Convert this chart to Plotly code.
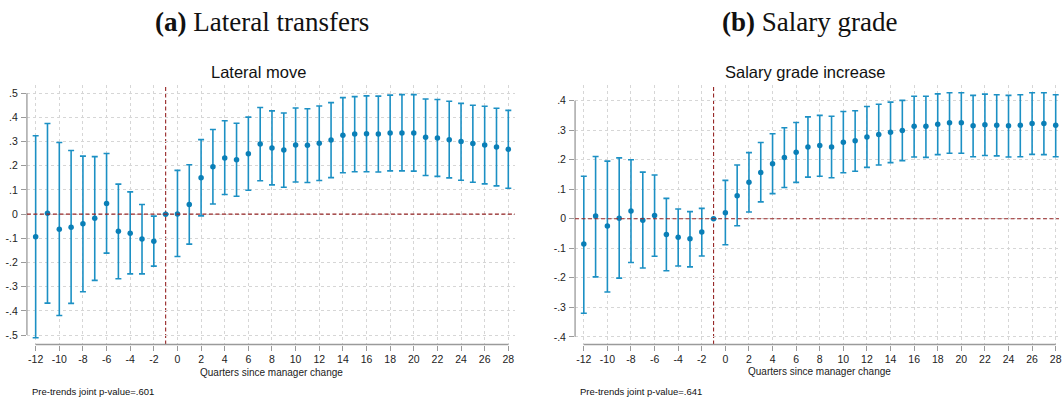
import plotly.graph_objects as go

# Event-study estimates by quarter relative to the manager change
quarters = list(range(-12, 29))

lat_coef = [-0.093, 0.004, -0.062, -0.054, -0.040, -0.017, 0.044, -0.071, -0.079, -0.103, -0.112, 0.0,
            0.001, 0.040, 0.151, 0.196, 0.232, 0.225, 0.250, 0.290, 0.274, 0.265, 0.286, 0.285, 0.293,
            0.307, 0.326, 0.331, 0.332, 0.331, 0.336, 0.336, 0.336, 0.318, 0.315, 0.308, 0.300, 0.292,
            0.286, 0.278, 0.268]
lat_hi = [0.324, 0.375, 0.296, 0.263, 0.240, 0.238, 0.251, 0.124, 0.092, 0.040, -0.008, None,
          0.181, 0.204, 0.308, 0.350, 0.386, 0.376, 0.401, 0.441, 0.427, 0.418, 0.439, 0.436, 0.447,
          0.461, 0.482, 0.486, 0.489, 0.488, 0.492, 0.494, 0.494, 0.476, 0.474, 0.467, 0.458, 0.450,
          0.446, 0.438, 0.429]
lat_lo = [-0.511, -0.368, -0.419, -0.369, -0.321, -0.274, -0.161, -0.267, -0.247, -0.247, -0.215, None,
          -0.175, -0.124, -0.007, 0.042, 0.081, 0.074, 0.099, 0.138, 0.121, 0.111, 0.133, 0.131, 0.139,
          0.151, 0.171, 0.175, 0.175, 0.174, 0.179, 0.179, 0.178, 0.160, 0.156, 0.150, 0.140, 0.132,
          0.125, 0.117, 0.107]

sal_coef = [-0.086, 0.009, -0.025, 0.002, 0.026, -0.005, 0.011, -0.053, -0.063, -0.068, -0.045, 0.0,
            0.020, 0.078, 0.124, 0.157, 0.186, 0.207, 0.225, 0.243, 0.248, 0.243, 0.259, 0.264, 0.277,
            0.285, 0.293, 0.299, 0.313, 0.313, 0.320, 0.325, 0.325, 0.315, 0.318, 0.317, 0.315, 0.317,
            0.323, 0.323, 0.317]
sal_hi = [0.144, 0.211, 0.195, 0.206, 0.200, 0.158, 0.148, 0.069, 0.033, 0.024, 0.035, None,
          0.130, 0.182, 0.224, 0.258, 0.288, 0.308, 0.326, 0.345, 0.350, 0.347, 0.363, 0.366, 0.380,
          0.388, 0.395, 0.401, 0.415, 0.415, 0.423, 0.427, 0.427, 0.418, 0.422, 0.420, 0.418, 0.420,
          0.427, 0.427, 0.420]
sal_lo = [-0.320, -0.197, -0.248, -0.201, -0.148, -0.167, -0.127, -0.176, -0.160, -0.163, -0.126, None,
          -0.088, -0.024, 0.023, 0.057, 0.085, 0.106, 0.123, 0.141, 0.144, 0.139, 0.156, 0.161, 0.174,
          0.182, 0.190, 0.197, 0.209, 0.208, 0.217, 0.222, 0.222, 0.210, 0.214, 0.213, 0.209, 0.210,
          0.218, 0.217, 0.210]

x_ticks = list(range(-12, 29, 2))
lat_yticks = [0.5, 0.4, 0.3, 0.2, 0.1, 0.0, -0.1, -0.2, -0.3, -0.4, -0.5]
lat_ylabels = [".5", ".4", ".3", ".2", ".1", "0", "-.1", "-.2", "-.3", "-.4", "-.5"]
sal_yticks = [0.4, 0.3, 0.2, 0.1, 0.0, -0.1, -0.2, -0.3, -0.4]
sal_ylabels = [".4", ".3", ".2", ".1", "0", "-.1", "-.2", "-.3", "-.4"]

panel_titles = ["<b>(a)</b> Lateral transfers", "<b>(b)</b> Salary grade"]
sub_titles = ["Lateral move", "Salary grade increase"]
x_title = "Quarters since manager change"
notes = ["Pre-trends joint p-value=.601", "Pre-trends joint p-value=.641"]

BAR = "#1c90c4"
DOT = "#0a7fb7"
RED = "#962626"
GRID = "#d6d6d6"
AX = "#9a9a9a"
SANS = "Liberation Sans, Arial, sans-serif"
SERIF = "Liberation Serif, Times New Roman, serif"


def err(coef, lo, hi):
    up = [None if h is None else h - c for c, h in zip(coef, hi)]
    dn = [None if l is None else c - l for c, l in zip(coef, lo)]
    return up, dn


fig = go.Figure()

for i, (coef, lo, hi) in enumerate([(lat_coef, lat_lo, lat_hi), (sal_coef, sal_lo, sal_hi)]):
    up, dn = err(coef, lo, hi)
    suffix = "" if i == 0 else "2"
    fig.add_trace(go.Scatter(
        x=quarters, y=coef, mode="markers",
        marker=dict(color=DOT, size=5.5, line=dict(width=0)),
        error_y=dict(type="data", array=up, arrayminus=dn, symmetric=False,
                     color=BAR, thickness=1.6, width=3),
        xaxis="x" + suffix, yaxis="y" + suffix, showlegend=False, cliponaxis=False,
    ))

W, H = 1062, 399
y_dom = [(H - 344.5) / H, (H - 85) / H]

common_x = dict(
    tickmode="array", tickvals=x_ticks, ticktext=[str(v) for v in x_ticks],
    showgrid=True, gridcolor=GRID, griddash="dot", gridwidth=1,
    zeroline=False, showline=False, ticks="outside", ticklen=5, tickwidth=1, tickcolor=AX,
    tickfont=dict(family=SANS, size=10.5, color="#222"), ticklabeloverflow="allow",
)
common_y = dict(
    showgrid=True, gridcolor=GRID, griddash="dot", gridwidth=1,
    zeroline=False, showline=False, ticks="outside", ticklen=5, tickwidth=1, tickcolor=AX,
    tickfont=dict(family=SANS, size=10.5, color="#222"), ticklabelstandoff=1,
)

fig.update_layout(
    width=W, height=H, margin=dict(l=0, r=0, t=0, b=0),
    paper_bgcolor="white", plot_bgcolor="white",
    xaxis=dict(domain=[27 / W, 516.5 / W], range=[-12.74, 28.57], anchor="y", **common_x),
    yaxis=dict(domain=y_dom, range=[-0.539, 0.534], anchor="x",
               tickmode="array", tickvals=lat_yticks, ticktext=lat_ylabels, **common_y),
    xaxis2=dict(domain=[576.7 / W, 1.0], range=[-12.74, 28.28], anchor="y2", **common_x),
    yaxis2=dict(domain=y_dom, range=[-0.426, 0.453], anchor="x2",
                tickmode="array", tickvals=sal_yticks, ticktext=sal_ylabels, **common_y),
)

shapes = []
for xa, ya, ymin, ymax in [("x", "y", -0.5, 0.5), ("x2", "y2", -0.4, 0.4)]:
    # axis lines spanning the tick range
    shapes.append(dict(type="line", xref=xa + " domain", yref=ya, x0=0, x1=0, y0=ymin, y1=ymax,
                       line=dict(color=AX, width=1.3)))
    shapes.append(dict(type="line", xref=xa, yref=ya + " domain", x0=-12, x1=28, y0=0, y1=0,
                       line=dict(color=AX, width=1.3)))
    # reference lines at zero and at the last pre-change quarter
    shapes.append(dict(type="line", xref=xa + " domain", yref=ya, x0=0, x1=1, y0=0, y1=0,
                       line=dict(color=RED, width=1.2, dash="4px,2.5px"), layer="above"))
    shapes.append(dict(type="line", xref=xa, yref=ya + " domain", x0=-1, x1=-1, y0=0, y1=1,
                       line=dict(color=RED, width=1.1, dash="4px,2.5px"), layer="below"))
fig.update_layout(shapes=shapes)

ann = []
for t, cx in zip(panel_titles, [262.5, 812]):
    ann.append(dict(text=t, x=cx / W, y=(H - 22) / H, xref="paper", yref="paper",
                    xanchor="center", yanchor="middle", showarrow=False,
                    font=dict(family=SERIF, size=27, color="#111")))
for t, cx in zip(sub_titles, [259, 807.5]):
    ann.append(dict(text=t, x=cx / W, y=(H - 72) / H, xref="paper", yref="paper",
                    xanchor="center", yanchor="middle", showarrow=False,
                    font=dict(family=SANS, size=16.5, color="#111")))
for cx, cy in [(272.4, 372), (822, 371.4)]:
    ann.append(dict(text=x_title, x=cx / W, y=(H - cy) / H, xref="paper", yref="paper",
                    xanchor="center", yanchor="middle", showarrow=False,
                    font=dict(family=SANS, size=10, color="#222")))
for t, lx in zip(notes, [30, 579.2]):
    ann.append(dict(text=t, x=lx / W, y=(H - 391.5) / H, xref="paper", yref="paper",
                    xanchor="left", yanchor="middle", showarrow=False,
                    font=dict(family=SANS, size=9.5, color="#111")))
fig.update_layout(annotations=ann)

fig.write_html("out.html")
